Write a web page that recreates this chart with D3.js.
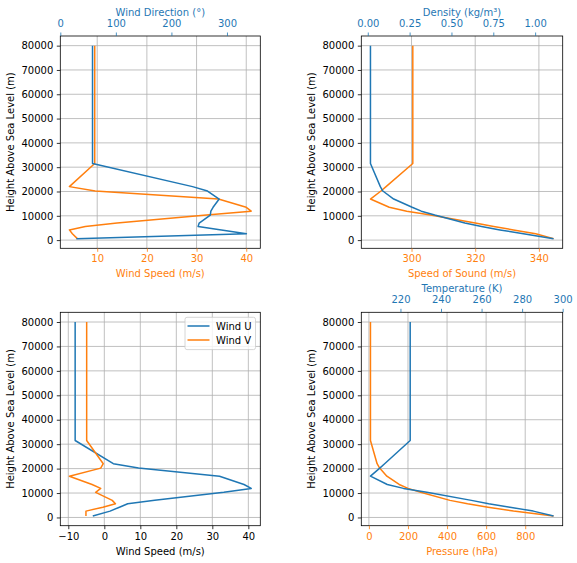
<!DOCTYPE html>
<meta charset="utf-8">
<style>
body { margin: 0; background: #fff; }
svg { font-family: "DejaVu Sans", sans-serif; }
.grid line { stroke: #b0b0b0; stroke-width: 0.8; }
.frame { fill: none; stroke: #000; stroke-width: 0.8; }
.series { fill: none; stroke-width: 1.5; stroke-linejoin: round; }
</style>
<svg width="577" height="563"></svg>
<script src="https://d3js.org/d3.v7.min.js"></script>
<script>

// levels (m) shared by every profile
var altitude      = [600, 2600, 4200, 5600, 7000, 10300, 11900, 13500, 16900, 20200, 22000, 31500, 80000];
var windSpeed     = [6.0, 5.0, 4.4, 7.6, 14.0, 32.0, 41.0, 40.0, 34.4, 9.6, 4.4, 9.5, 9.5];
var windDirection = [29, 335, 290, 248, 250, 270, 271, 275, 286, 265, 238, 58, 58];
var windU         = [-3.2, 1.6, 4.2, 6.5, 14.0, 33.2, 40.8, 38.8, 32.0, 9.5, 2.5, -8.1, -8.1];
var windV         = [-5.1, -5.1, -0.4, 3.1, 2.2, -2.4, -1.0, -3.4, -9.7, -1.0, -0.3, -4.9, -4.9];
var density       = [1.11, 0.93, 0.79, 0.68, 0.58, 0.40, 0.32, 0.265, 0.155, 0.09, 0.075, 0.016, 0.016];
var soundSpeed    = [344.6, 339, 332, 325.8, 320, 306, 298.5, 293, 287.1, 290.4, 292, 300.4, 300.4];
var pressure      = [945, 740, 610, 505, 415, 265, 200, 155, 92, 55, 42, 8, 8];
var temperature   = [295.5, 285.5, 274, 263.5, 255, 233, 221.5, 213.5, 205.2, 209.8, 212.2, 224.8, 224.8];

var heightTicks    = [0, 10000, 20000, 30000, 40000, 50000, 60000, 70000, 80000];
var speedTicks     = [10, 20, 30, 40];
var directionTicks = [0, 100, 200, 300];
var soundTicks     = [300, 320, 340];
var densityTicks   = [0, 0.25, 0.5, 0.75, 1.0];
var uvTicks        = [-10, 0, 10, 20, 30, 40];
var pressureTicks  = [0, 200, 400, 600, 800];
var tempTicks      = [220, 240, 260, 280, 300];

var blue = "#1f77b4", orange = "#ff7f0e";
var svg = d3.select("svg");

function pad(ext) {
  var r = ext[1] - ext[0];
  return [ext[0] - 0.05 * r, ext[1] + 0.05 * r];
}

function styleAxis(g, color) {
  g.attr("font-family", "DejaVu Sans, sans-serif").attr("font-size", 10);
  g.select(".domain").remove();
  g.selectAll(".tick line").attr("stroke", color).attr("stroke-width", 0.8);
  g.selectAll(".tick text").attr("fill", color);
}

function panel(p) {
  var g = svg.append("g");
  var y = d3.scaleLinear().domain(pad(d3.extent(altitude))).range([p.y1, p.y0]);
  var xb = d3.scaleLinear().domain(p.bottom.domain).range([p.x0, p.x1]);
  var xt = p.top ? d3.scaleLinear().domain(p.top.domain).range([p.x0, p.x1]) : null;

  // grid from the primary axes
  var grid = g.append("g").attr("class", "grid");
  grid.selectAll(".gx").data(p.bottom.ticks).enter().append("line")
      .attr("x1", xb).attr("x2", xb).attr("y1", p.y0).attr("y2", p.y1);
  grid.selectAll(".gy").data(heightTicks).enter().append("line")
      .attr("y1", y).attr("y2", y).attr("x1", p.x0).attr("x2", p.x1);

  var line = function(xs, scale) {
    return d3.line()
      .x(function(d, i) { return scale(xs[i]); })
      .y(function(d) { return y(d); })(altitude);
  };

  p.lines.forEach(function(l) {
    g.append("path").attr("class", "series")
      .attr("stroke", l.color)
      .attr("d", line(l.values, l.axis == "top" ? xt : xb));
  });

  g.append("rect").attr("class", "frame")
      .attr("x", p.x0).attr("y", p.y0)
      .attr("width", p.x1 - p.x0).attr("height", p.y1 - p.y0);

  var ay = g.append("g").attr("transform", "translate(" + p.x0 + ",0)")
      .call(d3.axisLeft(y).tickValues(heightTicks).tickSize(3.5).tickPadding(3.5).tickFormat(d3.format("d")));
  styleAxis(ay, "#000");

  var ab = g.append("g").attr("transform", "translate(0," + p.y1 + ")")
      .call(d3.axisBottom(xb).tickValues(p.bottom.ticks).tickSize(3.5).tickPadding(3.5)
            .tickFormat(p.bottom.fmt || d3.format("d")));
  styleAxis(ab, p.bottom.color);

  g.append("text")
      .attr("x", (p.x0 + p.x1) / 2).attr("y", p.y1 + 29)
      .attr("text-anchor", "middle").attr("font-size", 10)
      .attr("fill", p.bottom.color).text(p.bottom.label);

  if (p.top) {
    var at = g.append("g").attr("transform", "translate(0," + p.y0 + ")")
        .call(d3.axisTop(xt).tickValues(p.top.ticks).tickSize(3.5).tickPadding(3.5)
              .tickFormat(p.top.fmt || d3.format("d")));
    styleAxis(at, p.top.color);
    at.selectAll(".tick text").attr("y", -9).attr("dy", "0");
    g.append("text")
        .attr("x", (p.x0 + p.x1) / 2).attr("y", p.y0 - 20.5)
        .attr("text-anchor", "middle").attr("font-size", 10)
        .attr("fill", p.top.color).text(p.top.label);
  }

  g.append("text")
      .attr("transform", "translate(" + (p.x0 - 46.5) + "," + ((p.y0 + p.y1) / 2) + ") rotate(-90)")
      .attr("text-anchor", "middle").attr("font-size", 10)
      .attr("fill", "#000").text("Height Above Sea Level (m)");

  return { g: g, x: xb, y: y };
}

var left = [60.3, 260.3], right = [361.3, 562.7];
var upper = [36, 248.3], lower = [312.3, 525.7];

panel({
  x0: left[0], x1: left[1], y0: upper[0], y1: upper[1],
  bottom: { domain: pad(d3.extent(windSpeed)), ticks: speedTicks, color: orange, label: "Wind Speed (m/s)" },
  top: { domain: [0, 360], ticks: directionTicks, color: blue, label: "Wind Direction (°)" },
  lines: [{ values: windSpeed, color: orange, axis: "bottom" },
          { values: windDirection, color: blue, axis: "top" }]
});

panel({
  x0: right[0], x1: right[1], y0: upper[0], y1: upper[1],
  bottom: { domain: pad(d3.extent(soundSpeed)), ticks: soundTicks, color: orange, label: "Speed of Sound (m/s)" },
  top: { domain: pad(d3.extent(density)), ticks: densityTicks, color: blue, label: "Density (kg/m³)", fmt: d3.format(".2f") },
  lines: [{ values: soundSpeed, color: orange, axis: "bottom" },
          { values: density, color: blue, axis: "top" }]
});

var p3 = panel({
  x0: left[0], x1: left[1], y0: lower[0], y1: lower[1],
  bottom: { domain: pad(d3.extent(windU.concat(windV))), ticks: uvTicks, color: "#000", label: "Wind Speed (m/s)" },
  top: null,
  lines: [{ values: windU, color: blue, axis: "bottom" },
          { values: windV, color: orange, axis: "bottom" }]
});

panel({
  x0: right[0], x1: right[1], y0: lower[0], y1: lower[1],
  bottom: { domain: pad(d3.extent(pressure)), ticks: pressureTicks, color: orange, label: "Pressure (hPa)" },
  top: { domain: pad(d3.extent(temperature)), ticks: tempTicks, color: blue, label: "Temperature (K)" },
  lines: [{ values: pressure, color: orange, axis: "bottom" },
          { values: temperature, color: blue, axis: "top" }]
});

// legend for the U/V panel
var legendItems = [{ name: "Wind U", color: blue }, { name: "Wind V", color: orange }];
var lg = p3.g.append("g").attr("transform", "translate(185,317.3)");
lg.append("rect").attr("width", 70.5).attr("height", 32.3).attr("rx", 2)
    .attr("fill", "#fff").attr("fill-opacity", 0.8)
    .attr("stroke", "#cccccc").attr("stroke-width", 0.8);
var li = lg.selectAll(".item").data(legendItems).enter().append("g")
    .attr("transform", function(d, i) { return "translate(0," + (8.7 + i * 14) + ")"; });
li.append("line").attr("x1", 2.5).attr("x2", 24.5)
    .attr("stroke", function(d) { return d.color; }).attr("stroke-width", 1.5);
li.append("text").attr("x", 31).attr("dy", "0.36em").attr("font-size", 10)
    .attr("fill", "#000").text(function(d) { return d.name; });

</script>
